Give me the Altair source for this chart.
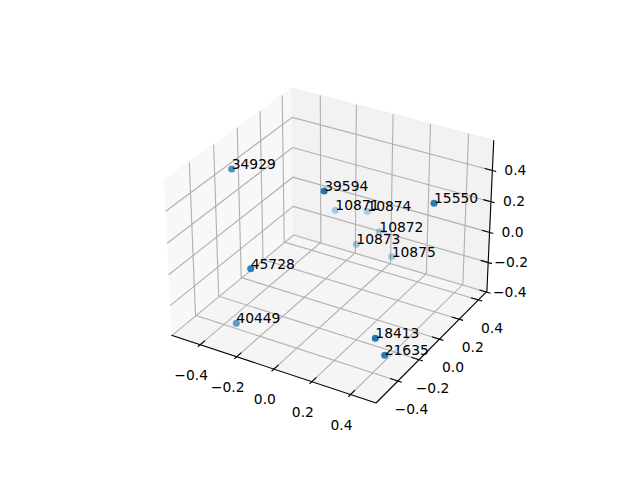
import numpy as np
import pandas as pd
import altair as alt

# values
point_labels = ["34929", "39594", "10871", "10874", "15550", "10872", "10873", "10875", "45728", "40449", "18413", "21635"]
point_x = [231.7, 324.2, 335.3, 367.3, 434.0, 379.3, 356.3, 391.7, 250.7, 236.3, 375.3, 384.7]
point_y = [169.0, 191.0, 210.3, 211.3, 203.3, 231.7, 244.3, 256.7, 268.7, 323.3, 338.3, 355.3]
point_alpha = [0.8, 1.0, 0.35, 0.35, 0.95, 0.35, 0.38, 0.35, 0.92, 0.7, 1.0, 0.95]
tick_values = [-0.4, -0.2, 0.0, 0.2, 0.4]
tick_labels = ["\u22120.4", "\u22120.2", "0.0", "0.2", "0.4"]
X_BOUNDS = (-0.56, 0.53)
Y_BOUNDS = (-0.60, 0.49)
Z_BOUNDS = (-0.395, 0.59)
SHIFT_X = 7.0
SHIFT_Y = 0.7
SCALE = 0.99

# 3D view
ELEV, AZIM, DIST = np.radians(30), np.radians(-59.6), 10.0
BOX = np.array([4.0, 4.0, 3.0]) * 1.8294640721620434 * SCALE / np.linalg.norm([4, 4, 3])
CENTER = BOX / 2
EYE = CENTER + DIST * np.array([np.cos(ELEV) * np.cos(AZIM), np.cos(ELEV) * np.sin(AZIM), np.sin(ELEV)])
W = (EYE - CENTER) / np.linalg.norm(EYE - CENTER)
U = np.cross([0, 0, 1], W)
U = U / np.linalg.norm(U)
V = np.cross(W, U)

LO = np.array([X_BOUNDS[0], Y_BOUNDS[0], Z_BOUNDS[0]])
HI = np.array([X_BOUNDS[1], Y_BOUNDS[1], Z_BOUNDS[1]])
MID = (LO + HI) / 2
LIM_RANGE = (HI - LO) / (1 + 1 / 24)


def project(x, y, z):
    p = ((np.array([x, y, z]) - MID) / LIM_RANGE + 0.5) * BOX - EYE
    d = -p.dot(W)
    px, py = p.dot(U) / d, p.dot(V) / d
    left, size = 135.2, 369.6
    sx = left + (px + 0.095) / 0.185 * size + SHIFT_X
    sy = 427.2 - (py + 0.095) / 0.185 * size + SHIFT_Y
    return float(sx), float(sy)


x0, y0, z0 = LO
x1, y1, z1 = HI
rows = []
path_count = [0]


def add_path(kind, pts):
    pid = path_count[0]
    path_count[0] += 1
    for i, p in enumerate(pts):
        sx, sy = project(*p)
        rows.append({"kind": kind, "path": f"{kind}{pid}", "i": i, "sx": sx, "sy": sy})


add_path("paneX", [(x0, y0, z0), (x0, y1, z0), (x0, y1, z1), (x0, y0, z1)])
add_path("paneY", [(x0, y1, z0), (x1, y1, z0), (x1, y1, z1), (x0, y1, z1)])
add_path("paneZ", [(x0, y0, z0), (x1, y0, z0), (x1, y1, z0), (x0, y1, z0)])
for t in tick_values:
    add_path("grid", [(t, y0, z0), (t, y1, z0), (t, y1, z1)])
    add_path("grid", [(x1, t, z0), (x0, t, z0), (x0, t, z1)])
    add_path("grid", [(x0, y0, t), (x0, y1, t), (x1, y1, t)])
add_path("axis", [(x0, y0, z0), (x1, y0, z0)])
add_path("axis", [(x1, y0, z0), (x1, y1, z0)])
add_path("axis", [(x1, y1, z0), (x1, y1, z1)])
labels = []
for t, s in zip(tick_values, tick_labels):
    add_path("tick", [(t, y0 - 0.02, z0), (t, y0 + 0.04, z0)])
    add_path("tick", [(x1 + 0.02, t, z0), (x1 - 0.04, t, z0)])
    add_path("tick", [(x1 + 0.02, y1, t), (x1 - 0.04, y1, t)])
    x, y = project(t, y0, z0)
    labels.append({"sx": x - 9.0, "sy": y + 31.0, "text": s})
    x, y = project(x1, t, z0)
    labels.append({"sx": x + 13.5, "sy": y + 29.0, "text": s})
    x, y = project(x1, y1, t)
    labels.append({"sx": x + 23.0, "sy": y + 0.5, "text": s})

frame = pd.DataFrame(rows)
points = pd.DataFrame({"sx": point_x, "sy": point_y, "alpha": point_alpha, "text": point_labels})
tick_text = pd.DataFrame(labels)

X = alt.X("sx:Q", axis=None, scale=alt.Scale(domain=[8, 632], nice=False, zero=False))
Y = alt.Y("sy:Q", axis=None, scale=alt.Scale(domain=[472, 8], nice=False, zero=False))
FONT = "DejaVu Sans"


def path_layer(kind, **mark):
    return (
        alt.Chart(frame[frame.kind == kind])
        .mark_line(**mark)
        .encode(x=X, y=Y, detail="path:N", order="i:Q")
    )


pane_x = path_layer("paneX", fill="#f2f2f2", fillOpacity=0.5, stroke="#f2f2f2", strokeOpacity=0.5, strokeWidth=1.1)
pane_y = path_layer("paneY", fill="#e6e6e6", fillOpacity=0.5, stroke="#e6e6e6", strokeOpacity=0.5, strokeWidth=1.1)
pane_z = path_layer("paneZ", fill="#ececec", fillOpacity=0.5, stroke="#ececec", strokeOpacity=0.5, strokeWidth=1.1)
grid = path_layer("grid", color="#b0b0b0", strokeWidth=1.11)
axis = path_layer("axis", color="#000000", strokeWidth=1.11)
ticks = path_layer("tick", color="#000000", strokeWidth=1.11)
dots = (
    alt.Chart(points)
    .mark_circle(color="#1f77b4", size=50)
    .encode(x=X, y=Y, opacity=alt.Opacity("alpha:Q", scale=None, legend=None))
)
dot_text = (
    alt.Chart(points)
    .mark_text(align="left", baseline="alphabetic", font=FONT, fontSize=13.89, color="#000000")
    .encode(x=X, y=Y, text="text:N")
)
tick_marks = (
    alt.Chart(tick_text)
    .mark_text(align="center", baseline="middle", font=FONT, fontSize=13.89, color="#000000")
    .encode(x=X, y=Y, text="text:N")
)

chart = (
    alt.layer(pane_x, pane_y, pane_z, grid, axis, ticks, dots, dot_text, tick_marks)
    .properties(width=624, height=464, padding=0, autosize=alt.AutoSizeParams(type="none"), background="white")
    .configure_view(stroke=None)
)
chart.save("out.html", embed_options={"renderer": "svg", "actions": False})
